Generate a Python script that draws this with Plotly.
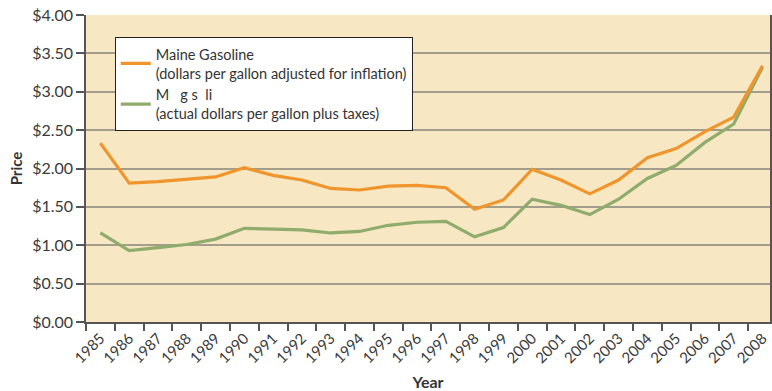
import plotly.graph_objects as go

# Years on the horizontal axis
years = [str(y) for y in range(1985, 2009)]

# Maine gasoline price, dollars per gallon adjusted for inflation
adjusted_price = [2.33, 1.81, 1.83, 1.86, 1.89, 2.01, 1.91, 1.85, 1.74, 1.72,
                  1.77, 1.78, 1.75, 1.47, 1.59, 1.99, 1.85, 1.67, 1.85, 2.14,
                  2.26, 2.48, 2.67, 3.34]

# Maine gasoline price, actual dollars per gallon plus taxes
actual_price = [1.16, 0.93, 0.97, 1.01, 1.08, 1.22, 1.21, 1.20, 1.16, 1.18,
                1.26, 1.30, 1.31, 1.11, 1.23, 1.60, 1.52, 1.40, 1.60, 1.87,
                2.04, 2.34, 2.58, 3.32]

legend_adjusted = "Maine Gasoline<br>(dollars per gallon adjusted for inflation)"
legend_actual = "M\u00a0\u00a0\u00a0g\u00a0s\u00a0\u00a0li<br>(actual dollars per gallon plus taxes)"

y_ticks = [0, 0.5, 1.0, 1.5, 2.0, 2.5, 3.0, 3.5, 4.0]
y_tick_labels = ["${:.2f}".format(v) for v in y_ticks]

ORANGE = "#ef952c"
GREEN = "#8fac6c"
FONT = "Lato"

fig = go.Figure()
fig.add_trace(go.Scatter(x=years, y=actual_price, mode="lines", name=legend_actual,
                         line=dict(color=GREEN, width=3.2)))
fig.add_trace(go.Scatter(x=years, y=adjusted_price, mode="lines", name=legend_adjusted,
                         line=dict(color=ORANGE, width=3.2)))

fig.update_layout(
    width=772, height=391,
    margin=dict(l=86, r=0, t=15, b=69),
    paper_bgcolor="white",
    plot_bgcolor="#f7e7c3",
    font=dict(family=FONT, color="#3a3a3a"),
    showlegend=True,
    legend=dict(
        x=0.042, y=0.928, xanchor="left", yanchor="top",
        bgcolor="white", bordercolor="#222222", borderwidth=1,
        font=dict(family=FONT, size=14.5, color="#333333"),
        traceorder="reversed", tracegroupgap=0,
    ),
)

fig.update_xaxes(
    type="category",
    range=[-0.5, 23.26],
    tickson="boundaries",
    ticks="outside", ticklen=7, tickwidth=1.5, tickcolor="#555555",
    tickangle=-45,
    tickfont=dict(family=FONT, size=15, color="#3a3a3a"),
    showline=True, linecolor="#555555", linewidth=1.5,
    showgrid=False,
    title=dict(text="<b>Year</b>", font=dict(family=FONT, size=16, color="#333333"),
               standoff=12),
)

fig.update_yaxes(
    range=[0, 4.0],
    tickmode="array",
    tickvals=y_ticks,
    ticktext=y_tick_labels,
    ticks="outside", ticklen=8, tickwidth=1.5, tickcolor="#555555",
    tickfont=dict(family=FONT, size=16, color="#3a3a3a"),
    showline=True, linecolor="#555555", linewidth=1.5, mirror=True,
    showgrid=True, gridcolor="#a39d8c", gridwidth=1.5,
    zeroline=False,
    title=dict(text="<b>Price</b>", font=dict(family=FONT, size=15, color="#333333"),
               standoff=6),
)

fig.write_html("out.html")
